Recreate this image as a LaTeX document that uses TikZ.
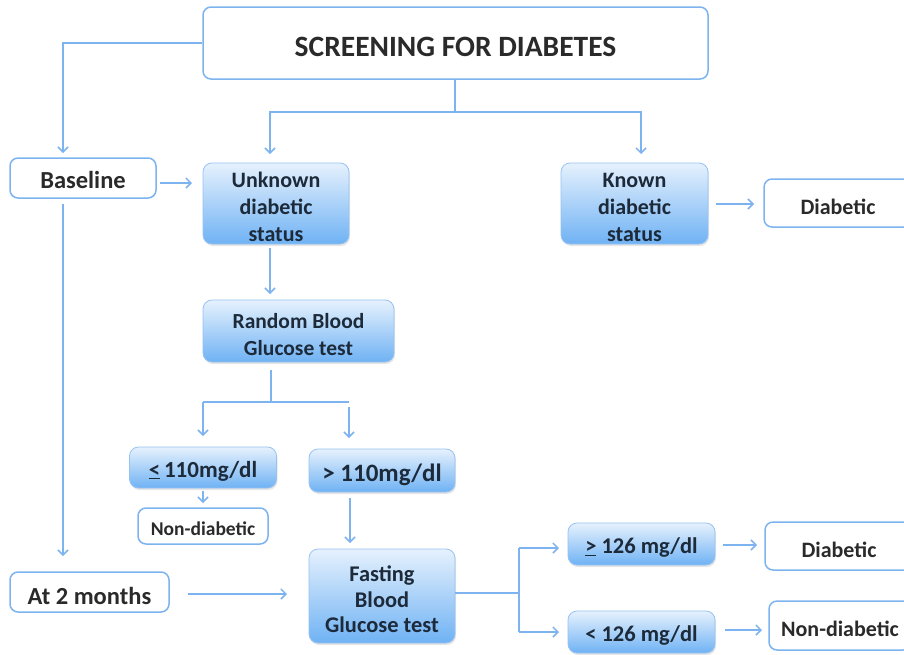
\documentclass[tikz,border=0pt]{standalone}
\usepackage{fontspec}
\setmainfont{Carlito}
\usetikzlibrary{arrows.meta,shadows}
\definecolor{lb}{HTML}{7DB3EE}
\definecolor{gtop}{HTML}{E6F1FD}
\definecolor{gbot}{HTML}{6FB2F4}
\definecolor{navy}{HTML}{1C2A3A}
\definecolor{txt}{HTML}{2A2A2A}
\newcommand{\fs}[2]{\bfseries\fontsize{#1}{#2}\selectfont}
\newcommand{\st}{\rule{0pt}{1.02em}}
\begin{document}
\begin{tikzpicture}[x=1pt,y=-1pt,
  wbox/.style={draw=lb, line width=1.5pt, rounded corners=8pt, fill=white, text=txt,
    font=\fs{22}{26}, align=center, inner sep=0pt},
  gbox/.style={draw=lb!80, line width=0.8pt, rounded corners=9pt, top color=gtop, bottom color=gbot,
    text=navy, font=\fs{22}{27}, align=center, inner sep=0pt,
    drop shadow={opacity=0.2,shadow xshift=1pt,shadow yshift=-2pt}},
  conn/.style={draw=lb, line width=1.5pt, -{Straight Barb[length=5pt,width=10pt]}},
  plain/.style={draw=lb, line width=1.5pt}]
\useasboundingbox (0,0) rectangle (904,654);

% boxes
\node[wbox, minimum width=505pt, minimum height=72pt, font=\fs{29.5}{32}] (title) at (455.5,43) {\rule{0pt}{0.92em}SCREENING FOR DIABETES};
\node[wbox, minimum width=146pt, minimum height=40pt, font=\fs{24.5}{28}] (base) at (83,178) {\rule{0pt}{0.9em}Baseline};
\node[gbox, minimum width=146pt, minimum height=81pt] (unk) at (276,203.5) {\st Unknown\\diabetic\\status};
\node[gbox, minimum width=147pt, minimum height=81pt] (known) at (634.5,203.5) {\st Known\\diabetic\\status};
\node[wbox, minimum width=148pt, minimum height=48pt] (diabT) at (838,203) {\st Diabetic};
\node[gbox, minimum width=191pt, minimum height=62pt, font=\fs{21.5}{27}] (rand) at (298.5,331) {\st Random Blood\\Glucose test};
\node[gbox, minimum width=147pt, minimum height=41pt, font=\fs{23}{27}] (le) at (203,467.5) {\st\underline{<}\,110mg/dl};
\node[gbox, minimum width=146pt, minimum height=43pt, font=\fs{25}{27}] (gt) at (382,470.5) {\st > 110mg/dl};
\node[wbox, minimum width=130pt, minimum height=36pt, font=\fs{19.5}{22}] (ndS) at (203,526) {\st Non-diabetic};
\node[gbox, minimum width=146pt, minimum height=94pt, font=\fs{22.4}{25.5}] (fast) at (382,596) {\st Fasting\\Blood\\Glucose test};
\node[wbox, minimum width=159pt, minimum height=40pt, font=\fs{24.5}{28}] (two) at (89.5,592) {\st At 2 months};
\node[gbox, minimum width=147pt, minimum height=42pt, font=\fs{22.5}{27}] (ge) at (641.5,544) {\st\underline{>} 126 mg/dl};
\node[gbox, minimum width=147pt, minimum height=42pt, font=\fs{22.5}{27}] (lt) at (641.5,632) {\st < 126 mg/dl};
\node[wbox, minimum width=148pt, minimum height=48pt] (diabB) at (839,546) {\st Diabetic};
\node[wbox, minimum width=142pt, minimum height=49pt] (ndB) at (840,625.5) {\st Non-diabetic};

% coordinates
\coordinate (bT) at (63,153);
\coordinate (s1) at (455,112);
\coordinate (uT) at (270,154);
\coordinate (kT) at (641,154);
\coordinate (bR) at (160,183);
\coordinate (uL) at (192,183);
\coordinate (bB) at (63,204);
\coordinate (tT) at (63,556);
\coordinate (uB) at (270,248);
\coordinate (rT) at (270,294);
\coordinate (rB) at (271,370);
\coordinate (s2) at (271,402);
\coordinate (s2L) at (203,402);
\coordinate (s2R) at (349,402);
\coordinate (leT) at (203,436);
\coordinate (gS) at (349,407);
\coordinate (gT) at (349,438);
\coordinate (leB) at (203,491);
\coordinate (nT) at (203,503);
\coordinate (gB) at (350,498);
\coordinate (fT) at (350,543);
\coordinate (tR) at (188,594);
\coordinate (fL) at (287,594);
\coordinate (fR) at (455,593);
\coordinate (s3) at (519,593);
\coordinate (s3T) at (519,548);
\coordinate (s3B) at (519,632);
\coordinate (geL) at (559,548);
\coordinate (ltL) at (559,632);
\coordinate (geR) at (723,545);
\coordinate (dBL) at (757,545);
\coordinate (ltR) at (725,630);
\coordinate (nBL) at (762,630);
\coordinate (kR) at (716,204);
\coordinate (dTL) at (754,204);

% connectors
\draw[conn] (title.west |- 0,43) -| (bT);
\draw[plain] (s1 |- title.south) -- (s1);
\draw[conn] (s1) -| (uT);
\draw[conn] (s1) -| (kT);
\draw[conn] (bR) -- (uL);
\draw[conn] (bB) -- (tT);
\draw[conn] (uB) -- (rT);
\draw[plain] (rB) -- (s2);
\draw[plain] (s2R) -- (s2L);
\draw[conn] (s2L) -- (leT);
\draw[conn] (gS) -- (gT);
\draw[conn] (leB) -- (nT);
\draw[conn] (gB) -- (fT);
\draw[conn] (tR) -- (fL);
\draw[plain] (fR) -- (s3);
\draw[plain] (s3T) -- (s3B);
\draw[conn] (s3T) -- (geL);
\draw[conn] (s3B) -- (ltL);
\draw[conn] (geR) -- (dBL);
\draw[conn] (ltR) -- (nBL);
\draw[conn] (kR) -- (dTL);
\end{tikzpicture}
\end{document}
